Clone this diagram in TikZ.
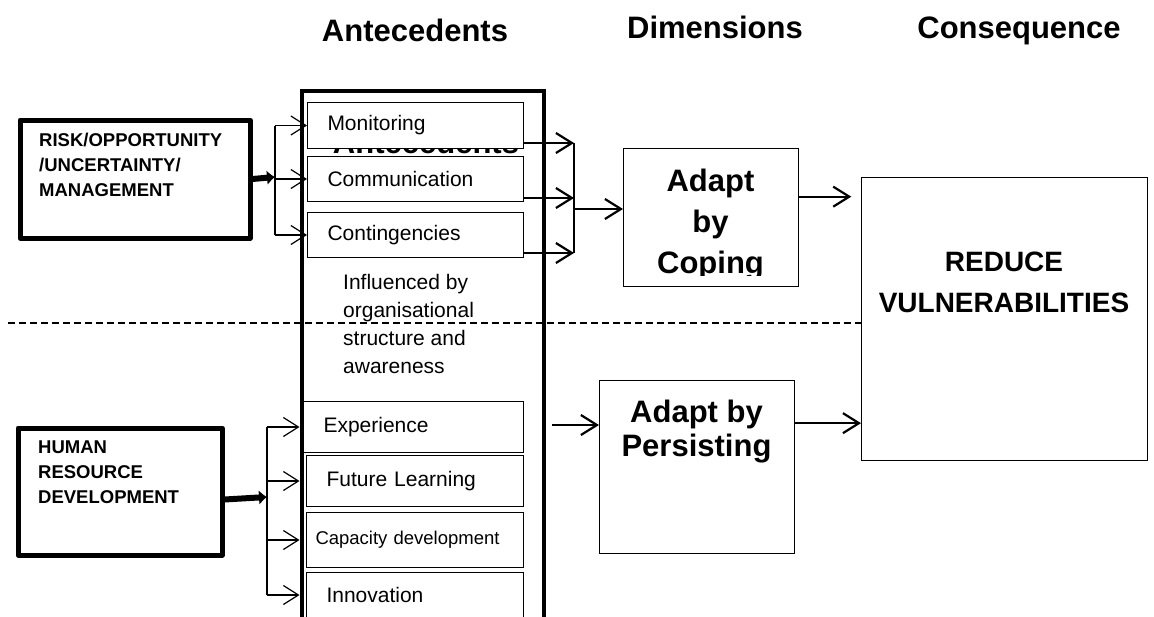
\documentclass[tikz,border=0pt]{standalone}
\usepackage{fontspec}
\setmainfont{Liberation Sans}
\usetikzlibrary{arrows.meta, calc}

\begin{document}
\begin{tikzpicture}[x=1pt, y=-1pt,
    heading/.style={font=\fontsize{31}{36}\selectfont\bfseries, anchor=base, inner sep=0pt},
    frame/.style={draw, line width=5pt, line join=round, anchor=north west},
    inbox/.style={draw, line width=1pt, fill=white, anchor=north west, minimum width=216pt, text width=176pt, inner xsep=20pt, inner ysep=0pt, align=left, font=\fontsize{21}{25}\selectfont},
    dimbox/.style={draw, line width=1.3pt, anchor=north west},
    capstext/.style={font=\fontsize{18.5}{25}\selectfont\bfseries, align=left, anchor=north west, inner sep=0pt},
    feed/.style={line width=6pt, -{Latex[length=8pt, width=15pt]}},
    branch/.style={line width=1.2pt, -{Straight Barb[length=15pt, width=19pt]}},
    flow/.style={line width=2.2pt, -{Straight Barb[length=16pt, width=20pt]}},
    divide/.style={line width=1.3pt, dash pattern=on 7pt off 4pt}]
\useasboundingbox (0,0) rectangle (1154,616);

% column headings
\node[heading] (hante) at (415,41) {Antecedents};
\node[heading] (hdim) at (715,38) {Dimensions};
\node[heading] (hcon) at (1019,38) {Consequence};

% left drivers
\node[frame, minimum width=230pt, minimum height=118pt] (risk) at (17.5,117.5) {};
\node[capstext] (risktxt) at (39,133) {RISK/OPPORTUNITY\\/UNCERTAINTY/\\MANAGEMENT};
\node[frame, minimum width=204pt, minimum height=127pt] (hum) at (15.5,425.5) {};
\node[capstext] (humtxt) at (38,441) {HUMAN\\RESOURCE\\DEVELOPMENT};

% antecedents
\node[draw, line width=4pt, anchor=north west, minimum width=242pt, minimum height=560pt] (ante) at (299.5,89) {};
\node[heading] (ghost) at (426,153) {Antecedents};
\node[inbox, minimum height=46pt] (mon) at (307,102) {Monitoring};
\node[inbox, minimum height=45pt] (com) at (307,156) {Communication};
\node[inbox, minimum height=45pt] (con) at (307,212) {Contingencies};
\node[font=\fontsize{21}{28}\selectfont, align=left, anchor=north west, inner sep=0pt] (infl) at (343,274) {Influenced by\\organisational\\structure and\\awareness};
\node[inbox, minimum height=51pt, minimum width=220pt, text width=180pt] (exp) at (303,401) {Experience};
\node[inbox, minimum height=51pt, minimum width=217pt, text width=177pt] (fut) at (306,455) {Future Learning};
\node[inbox, minimum height=55pt, minimum width=217pt, text width=199pt, inner xsep=9pt, font=\fontsize{18.5}{22}\selectfont] (cap) at (306,512) {Capacity development};
\node[inbox, minimum height=45pt, minimum width=217pt, text width=177pt] (inn) at (306,572) {Innovation};

% dimensions and consequence
\node[dimbox, minimum width=175pt, minimum height=138pt] (cope) at (623,148) {};
\begin{scope}
  \clip (623,148) rectangle (798,275);
  \node[font=\fontsize{31}{41}\selectfont\bfseries, align=center] (copetxt) at (710.5,225) {Adapt\\by\\Coping};
\end{scope}
\node[dimbox, minimum width=195pt, minimum height=173pt] (pers) at (599,380) {};
\node[font=\fontsize{31}{34}\selectfont\bfseries, align=center] (perstxt) at (696.5,432) {Adapt by\\Persisting};
\node[dimbox, minimum width=286pt, minimum height=283pt] (red) at (861,177) {};
\node[font=\fontsize{28}{41}\selectfont\bfseries, align=center] (redtxt) at (1004,282) {REDUCE\\VULNERABILITIES};

% dividing line
\coordinate (dstart) at (8,323);
\draw[divide] (dstart) -- (dstart -| red.west);

% risk branches
\coordinate (rsplit) at (275,177);
\draw[feed] (risk.east) -- (rsplit);
\draw[line width=1.2pt] (rsplit |- mon.west) -- (rsplit |- con.west);
\draw[branch] (rsplit |- mon.west) -- (mon.west);
\draw[branch] (rsplit |- com.west) -- (com.west);
\draw[branch] (rsplit |- con.west) -- (con.west);

% human resource branches
\coordinate (hsplit) at (267,497);
\draw[feed] ([yshift=-8pt]hum.east) -- (hsplit);
\draw[line width=1.2pt] (hsplit |- exp.west) -- (hsplit |- inn.west);
\draw[branch] (hsplit |- exp.west) -- (ante.west |- exp.west);
\draw[branch] (hsplit |- fut.west) -- (ante.west |- fut.west);
\draw[branch] (hsplit |- cap.west) -- (ante.west |- cap.west);
\draw[branch] (hsplit |- inn.west) -- (ante.west |- inn.west);

% into coping
\coordinate (jv) at (574,209);
\coordinate (m1) at ([yshift=6pt]mon.south east);
\coordinate (c1) at ([yshift=4pt]com.south east);
\coordinate (g1) at ([yshift=5pt]con.south east);
\draw[flow] (m1) -- (m1 -| jv);
\draw[flow] (c1) -- (c1 -| jv);
\draw[flow] (g1) -- (g1 -| jv);
\draw[line width=2.2pt] (m1 -| jv) -- (g1 -| jv);
\draw[flow] (jv) -- (jv -| cope.west);

% into persisting and consequence
\coordinate (pin) at (552,425);
\draw[flow] (pin) -- (pin -| pers.west);
\draw[flow] ([yshift=21pt]cope.east) -- ++(52,0);
\coordinate (p1) at ([yshift=44pt]pers.east);
\draw[flow] (p1) -- (p1 -| red.west);
\end{tikzpicture}
\end{document}
